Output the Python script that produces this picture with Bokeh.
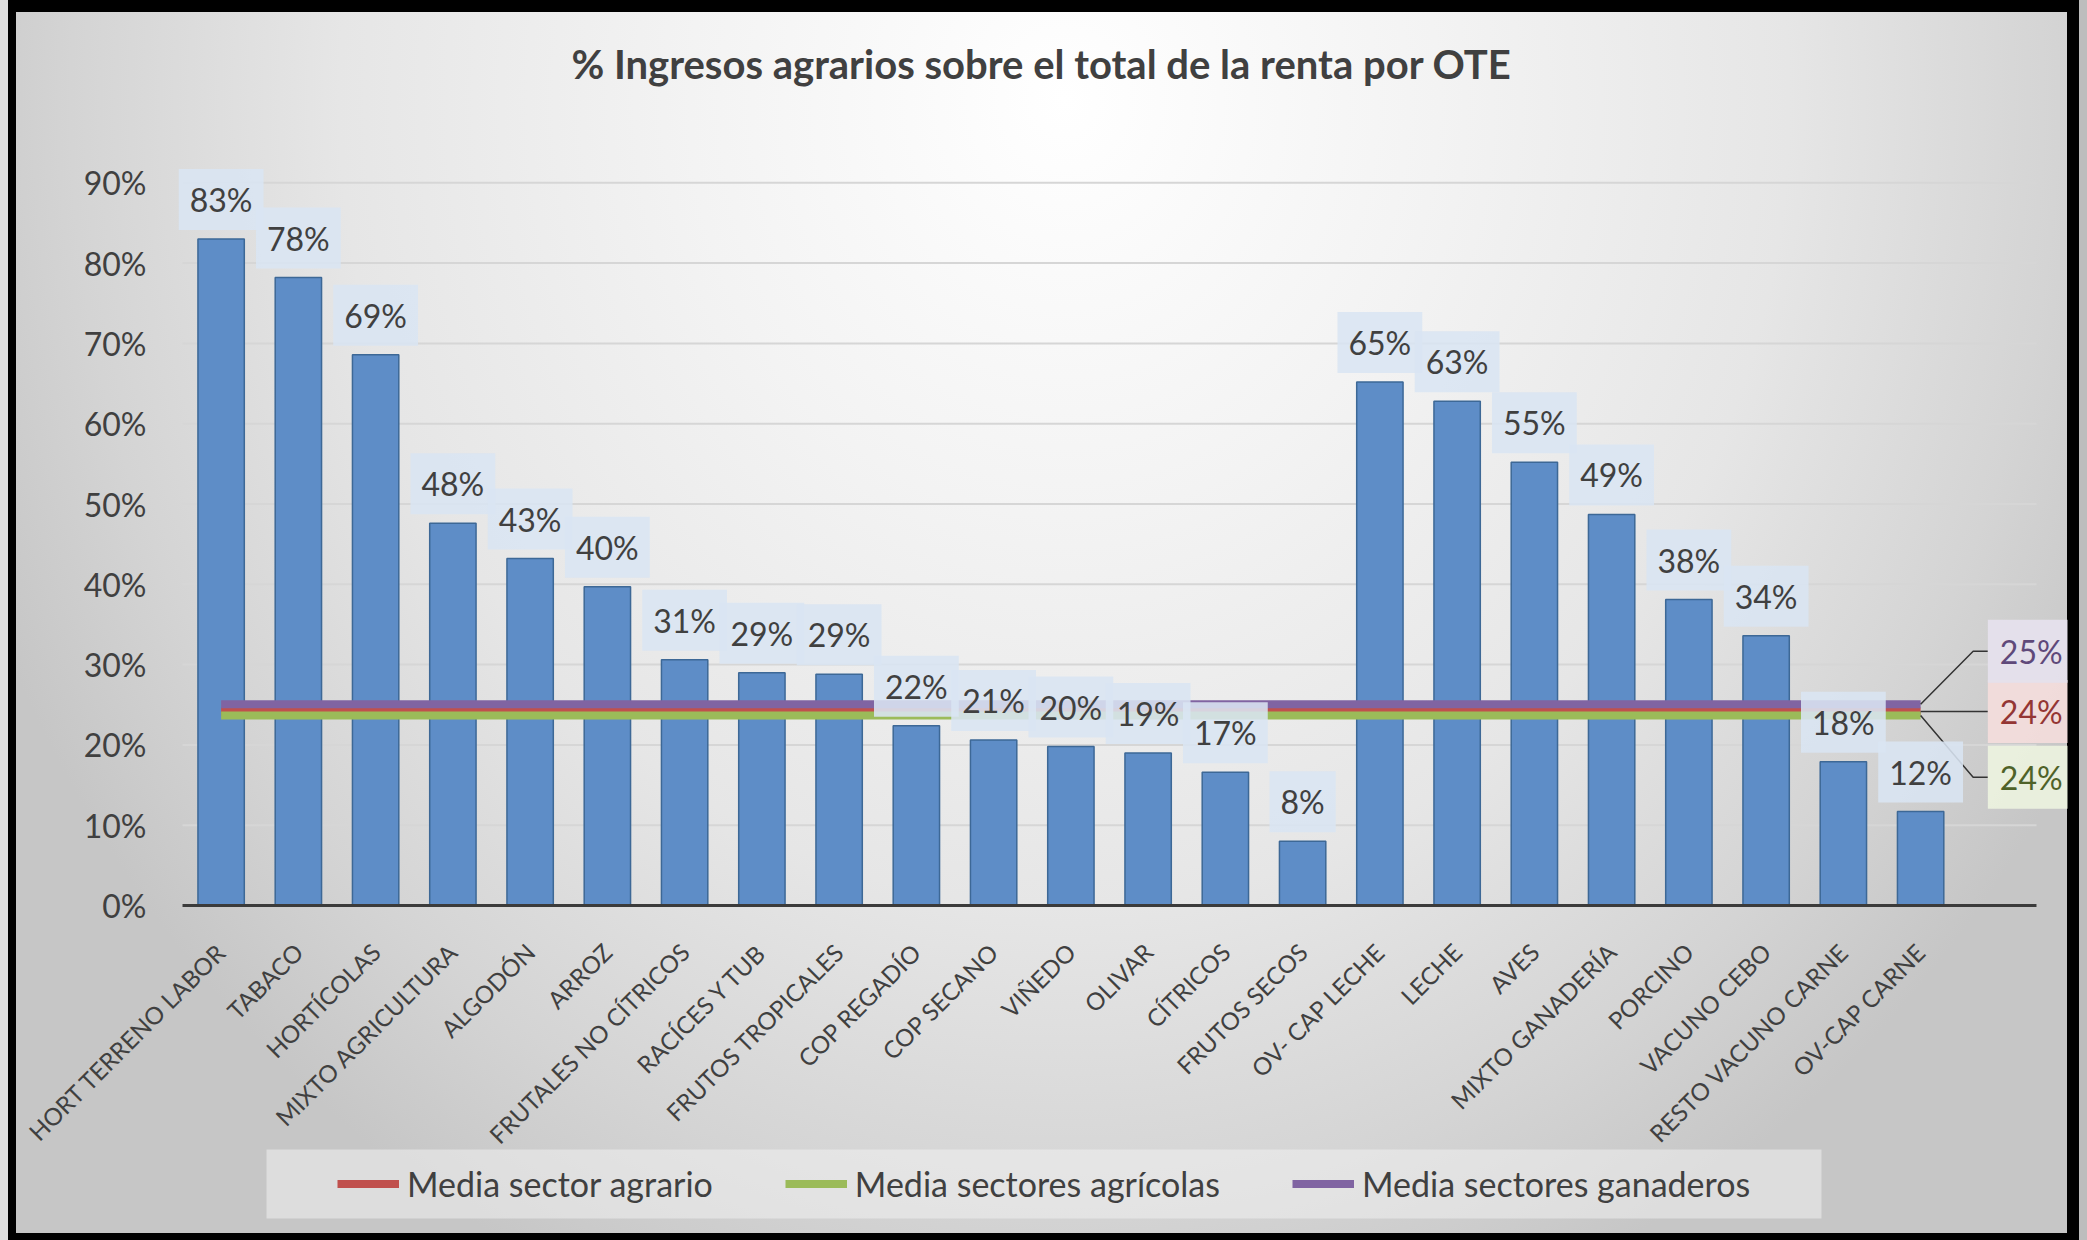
from bokeh.plotting import figure
from bokeh.models import FixedTicker, NumeralTickFormatter, Label, Legend, LegendItem, Range1d
from bokeh.embed import file_html
from bokeh.resources import INLINE

# ---------------- data ----------------
title_text = "% Ingresos agrarios sobre el total de la renta por OTE"

categories = [
    "HORT TERRENO LABOR", "TABACO", "HORTÍCOLAS", "MIXTO AGRICULTURA", "ALGODÓN", "ARROZ",
    "FRUTALES NO CÍTRICOS", "RACÍCES Y TUB", "FRUTOS TROPICALES", "COP REGADÍO", "COP SECANO",
    "VIÑEDO", "OLIVAR", "CÍTRICOS", "FRUTOS SECOS", "OV- CAP LECHE", "LECHE", "AVES",
    "MIXTO GANADERÍA", "PORCINO", "VACUNO CEBO", "RESTO VACUNO CARNE", "OV-CAP CARNE",
]
shares = [
    0.830, 0.782, 0.686, 0.476, 0.432, 0.397, 0.306, 0.290, 0.288, 0.224, 0.206,
    0.198, 0.190, 0.166, 0.080, 0.652, 0.628, 0.552, 0.487, 0.381, 0.336, 0.179, 0.117,
]
avg_names = ["Media sector agrario", "Media sectores agrícolas", "Media sectores ganaderos"]
avg_values = [0.2416, 0.2366, 0.2507]
y_ticks = [0.0, 0.1, 0.2, 0.3, 0.4, 0.5, 0.6, 0.7, 0.8, 0.9]

# ---------------- styles / layout ----------------
W, H = 2087, 1240
FRAME_L, FRAME_R, FRAME_T, FRAME_B = 16, 2067, 12, 1233   # drawing area inside the black frame
CHART_L, CHART_ZERO = 182, 905                              # pixel of first category edge / of 0 %
PX_PER_CAT, PX_PER_UNIT = 77.25, 803.0
LEG_BOX = (266, 1821, 1149, 1218)                           # legend panel: left, right, top, bottom (px)
LEG_GLYPH_X = 337

FONT = "Lato"
TEXT = "#404040"
BAR_FILL = "#5e8dc7"
BAR_LINE = "#3d6896"
avg_colors = ["#c0504d", "#9bbb59", "#8064a2"]
avg_text_colors = ["#943634", "#4f6228", "#5f497a"]
avg_box_colors = ["#f2dcdb", "#ebf1de", "#e5e0ec"]
callout_dy = [0.0, -0.077, 0.066]      # vertical shift of each callout box
BEND_DX, BOX_DX = 0.68, 0.87           # leader bend / box start, past the last category
TITLE_X, TITLE_Y = 10.62, 1.048

def pct(v):
    return f"{round(v * 100)}%"

n = len(categories)
xs = list(range(n))
cat_lo, cat_hi = -0.5, n + 0.5          # category axis extent (one spare slot at right)

def px_to_x(px):
    return cat_lo + (px - CHART_L) / PX_PER_CAT

def px_to_y(py):
    return (CHART_ZERO - py) / PX_PER_UNIT

p = figure(width=W, height=H, output_backend="svg", toolbar_location=None, title=None,
           x_range=Range1d(px_to_x(FRAME_L), px_to_x(FRAME_R)),
           y_range=Range1d(px_to_y(FRAME_B), px_to_y(FRAME_T)),
           min_border_left=FRAME_L, min_border_right=W - FRAME_R,
           min_border_top=FRAME_T, min_border_bottom=H - FRAME_B,
           border_fill_color=None, background_fill_color=None, outline_line_color=None)
p.styles = {
    "background": ("radial-gradient(ellipse 56% 105% at 51% 8%, #ffffff 0%, #f3f3f3 32%, "
                   "#e6e6e6 62%, #d4d4d4 85%, #c6c6c6 100%)"),
    "box-shadow": ("inset -8px 0 0 0 #bdbdbd, inset -20px 0 0 0 #000000, "
                   "inset 8px 0 0 0 #dedede, inset 16px 12px 0 0 #000000, "
                   "inset 0 -7px 0 0 #000000"),
}

# axes (pinned at 0 % and at the left edge of the category band)
xa = p.xaxis[0]
xa.fixed_location = 0
xa.ticker = FixedTicker(ticks=xs)
xa.bounds = (cat_lo, cat_hi)
xa.major_label_overrides = {i: c for i, c in zip(xs, categories)}
xa.major_label_orientation = 0.7854
xa.major_label_text_font = FONT
xa.major_label_text_font_size = "24px"
xa.major_label_text_color = TEXT
xa.major_label_standoff = 42
xa.major_tick_out = 0
xa.major_tick_in = 0
xa.major_tick_line_color = None
xa.minor_tick_line_color = None
xa.axis_line_color = "#3b3b3b"
xa.axis_line_width = 3

ya = p.yaxis[0]
ya.fixed_location = cat_lo
ya.ticker = FixedTicker(ticks=y_ticks)
ya.bounds = (y_ticks[0], y_ticks[-1])
ya.formatter = NumeralTickFormatter(format="0%")
ya.major_label_text_font = FONT
ya.major_label_text_font_size = "32px"
ya.major_label_text_color = TEXT
ya.major_label_standoff = 36
ya.major_tick_out = 0
ya.major_tick_in = 0
ya.major_tick_line_color = None
ya.minor_tick_line_color = None
ya.axis_line_color = None

# horizontal gridlines, limited to the category band
p.xgrid.grid_line_color = None
p.ygrid.grid_line_color = None
p.segment(x0=[cat_lo] * len(y_ticks), x1=[cat_hi] * len(y_ticks), y0=y_ticks, y1=y_ticks,
          line_color="#d6d6d6", line_width=2)

# legend panel background
p.quad(left=[px_to_x(LEG_BOX[0])], right=[px_to_x(LEG_BOX[1])],
       top=[px_to_y(LEG_BOX[2])], bottom=[px_to_y(LEG_BOX[3])],
       fill_color="#f4f4f4", fill_alpha=0.5, line_color=None)

# bars
p.vbar(x=xs, top=shares, bottom=0, width=0.6, fill_color=BAR_FILL,
       line_color=BAR_LINE, line_width=1.5)

# average lines
line_renderers = []
for v, c in zip(avg_values, avg_colors):
    r = p.line(x=[xs[0], xs[-1]], y=[v, v], line_color=c, line_width=8)
    line_renderers.append(r)

# leader lines + callouts
for v, dy, tc, fc in zip(avg_values, callout_dy, avg_text_colors, avg_box_colors):
    p.line(x=[xs[-1], xs[-1] + BEND_DX, xs[-1] + BOX_DX], y=[v, v + dy, v + dy],
           line_color="#333333", line_width=1.5)
    p.add_layout(Label(x=xs[-1] + BOX_DX, y=v + dy, text=pct(v), text_align="left",
                       text_baseline="middle", padding=12,
                       text_font=FONT, text_font_size="32px", text_color=tc,
                       background_fill_color=fc, background_fill_alpha=0.95))

# data labels
for x, v in zip(xs, shares):
    p.add_layout(Label(x=x, y=v, text=pct(v), text_align="center", text_baseline="bottom",
                       y_offset=9, padding=11, text_font=FONT, text_font_size="32px",
                       text_color=TEXT, background_fill_color="#dae5f2",
                       background_fill_alpha=0.88))

# title
p.add_layout(Label(x=TITLE_X, y=TITLE_Y, text=title_text, text_align="center",
                   text_baseline="middle", text_font=FONT, text_font_size="40px",
                   text_font_style="bold", text_color=TEXT))

# legend (below the category labels)
leg_h = LEG_BOX[3] - LEG_BOX[2]
legend = Legend(items=[LegendItem(label=nm, renderers=[r]) for nm, r in zip(avg_names, line_renderers)],
                orientation="horizontal", location=(LEG_GLYPH_X - FRAME_L, FRAME_B - LEG_BOX[3]),
                padding=0, spacing=72, glyph_width=62, glyph_height=leg_h, label_height=leg_h,
                label_standoff=8, margin=0,
                label_text_font=FONT, label_text_font_size="34px", label_text_color=TEXT,
                background_fill_color=None, border_line_color=None)
p.add_layout(legend)

open("out.html", "w").write(file_html(p, INLINE))
